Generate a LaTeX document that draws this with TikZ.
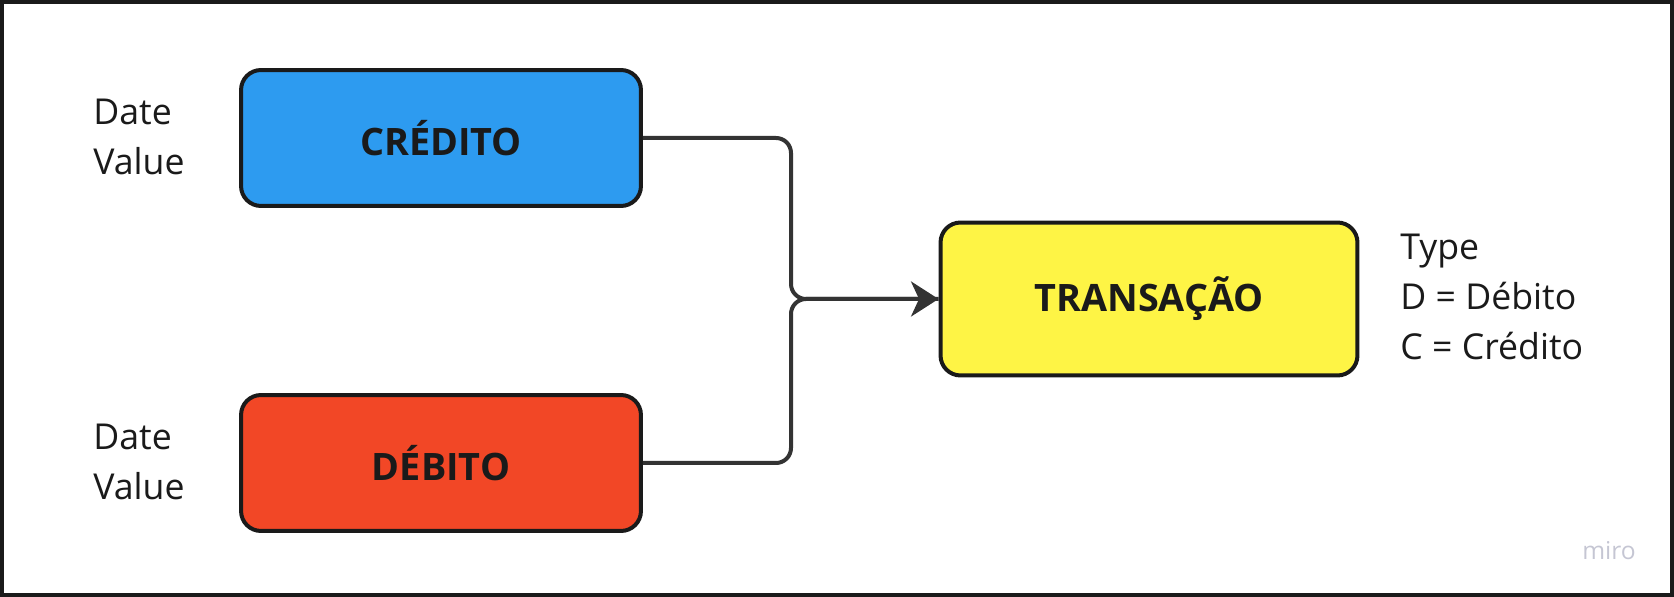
\documentclass[tikz,border=0pt]{standalone}
\usepackage{fontspec}
\setmainfont{Open Sans}
\usetikzlibrary{arrows.meta}
\definecolor{miroblue}{HTML}{2D9BF0}
\definecolor{mirored}{HTML}{F24726}
\definecolor{miroyellow}{HTML}{FEF445}
\definecolor{inktext}{HTML}{1A1A1A}
\definecolor{linkgray}{HTML}{333333}
\definecolor{logogray}{HTML}{C5C6D3}

\begin{document}
\begin{tikzpicture}[x=0.02cm,y=-0.02cm]
\tikzstyle{box}=[draw=inktext, line width=0.08cm, rounded corners=0.4cm, minimum width=8cm, minimum height=2.72cm, font=\fontsize{21.5}{24}\selectfont\bfseries, text=inktext]
\tikzstyle{note}=[anchor=west, align=left, font=\fontsize{20.3}{28.5}\selectfont, text=inktext, inner sep=0pt]
\tikzstyle{link}=[draw=linkgray, line width=0.08cm, rounded corners=0.3cm]

\useasboundingbox (0,0) rectangle (1674,597);
\draw[line width=0.08cm, draw=inktext] (2,2) rectangle (1672,595);

\node (credito) at (441,138) [box, fill=miroblue] {CRÉDITO};
\node (debito) at (441,463) [box, fill=mirored] {DÉBITO};
\node (transacao) at (1149,299) [box, fill=miroyellow, minimum width=8.34cm, minimum height=3.06cm] {TRANSAÇÃO};

\node (credinfo) at (93,137) [note] {Date\\Value};
\node (debinfo) at (93,462) [note] {Date\\Value};
\node (typeinfo) at (1400,297) [note] {Type\\D = Débito\\C = Crédito};
\node (miro) at (1609,551) [font=\fontsize{14}{14}\selectfont, text=logogray] {miro};

\coordinate (merge) at (791,299);
\draw[link] (credito.east) -| (merge) -- (transacao.west);
\draw[link, -{Stealth[length=0.55cm,width=0.7cm,inset=0.16cm]}] (debito.east) -| (merge) -- (transacao.west);
\end{tikzpicture}
\end{document}
